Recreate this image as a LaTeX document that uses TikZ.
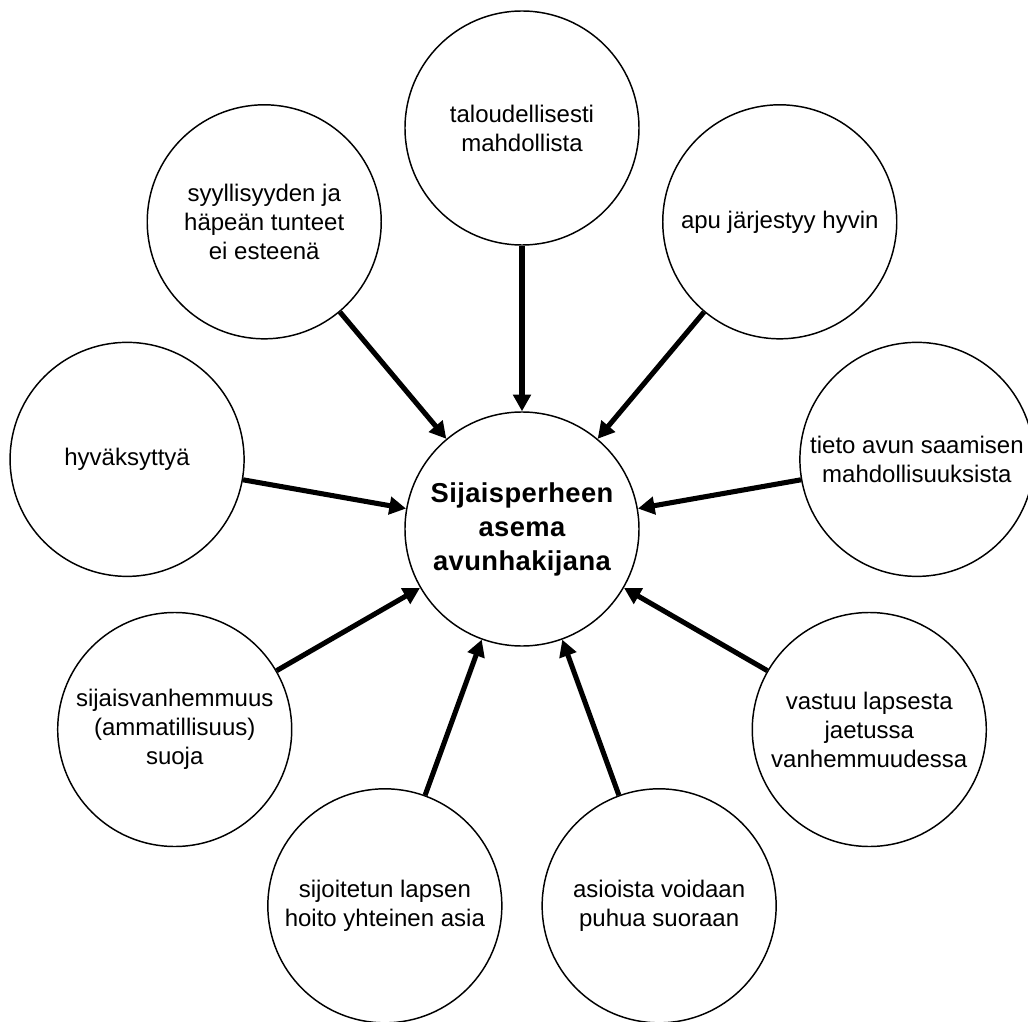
\documentclass[tikz,border=0pt]{standalone}
\usepackage{fontspec}
\setmainfont{Liberation Sans}
\usetikzlibrary{arrows.meta}
\begin{document}
\begin{tikzpicture}[x=0.75pt,y=0.75pt,
  bubble/.style={draw=black, line width=1.1pt, circle, minimum size=175.5pt, inner sep=0pt, align=center, fill=white,
    font=\fontsize{18}{21.75}\selectfont},
  hub/.style={bubble, font=\fontsize{20.5}{25.5}\selectfont\bfseries\addfontfeature{LetterSpace=1.5}},
  arr/.style={line width=3.8pt, -{Triangle[length=12.5pt,width=13pt]}, shorten >=0pt}
]
\fill[white] (-522,-492) rectangle (506,529);
\useasboundingbox (-522,-492) rectangle (506,529);
\node[hub] (c) at (0,0) {Sijaisperheen\\asema\\avunhakijana};
\node[bubble] (n1) at (90:401) {taloudellisesti\\mahdollista};
\node[bubble] (n2) at (50:401) {apu järjestyy hyvin};
\node[bubble] (n3) at (10:401) {tieto avun saamisen\\mahdollisuuksista};
\node[bubble] (n4) at (-30:401) {vastuu lapsesta\\jaetussa\\vanhemmuudessa};
\node[bubble] (n5) at (-70:401) {asioista voidaan\\puhua suoraan};
\node[bubble] (n6) at (-110:401) {sijoitetun lapsen\\hoito yhteinen asia};
\node[bubble] (n7) at (-150:401) {sijaisvanhemmuus\\(ammatillisuus)\\suoja};
\node[bubble] (n8) at (170:401) {hyväksyttyä};
\node[bubble] (n9) at (130:401) {syyllisyyden ja\\häpeän tunteet\\ei esteenä};
\foreach \n in {n1,n2,n3,n4,n5,n6,n7,n8,n9} {
  \draw[arr] (\n) -- (c);
}
\end{tikzpicture}
\end{document}
